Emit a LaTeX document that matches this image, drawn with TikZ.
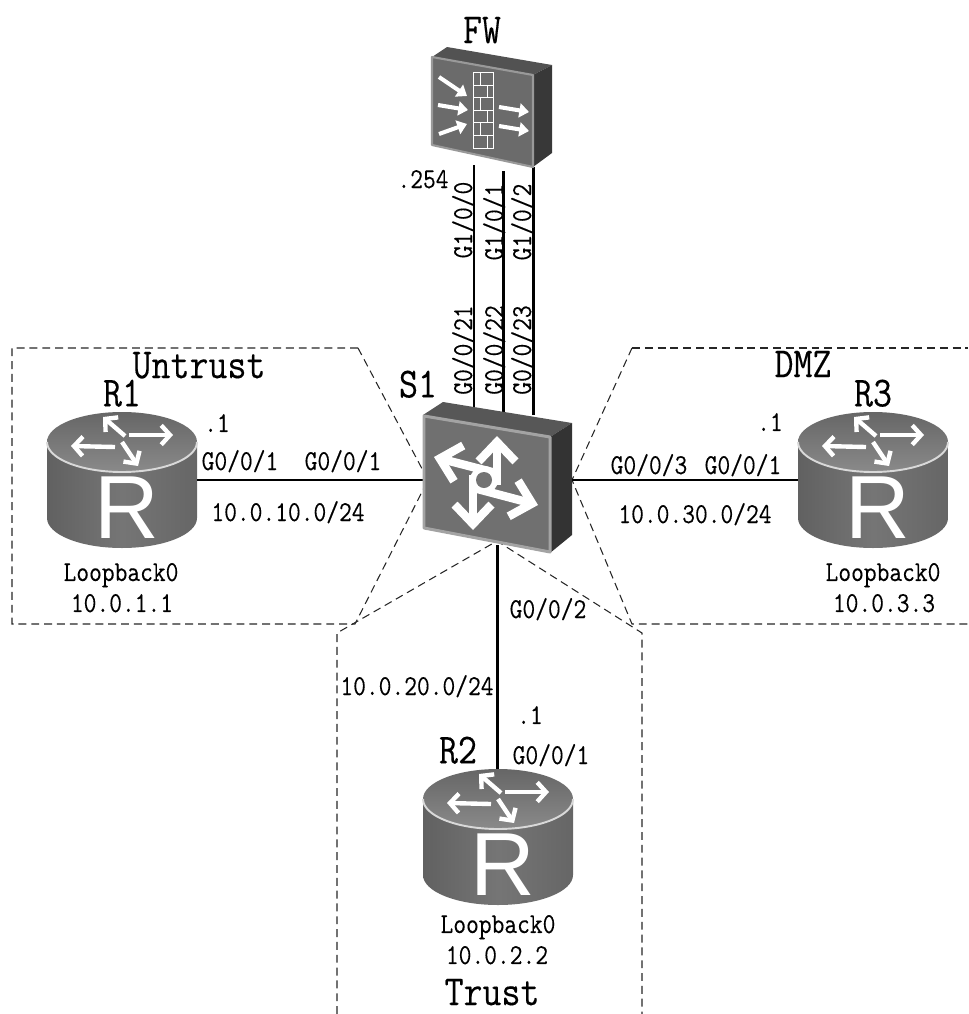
\documentclass[tikz,border=0pt]{standalone}
\usepackage{fontspec}
\setmonofont{Latin Modern Mono}[FakeStretch=0.86, FakeBold=0.25]
\newfontfamily\iconfont{Liberation Sans}
\usetikzlibrary{arrows.meta}

\tikzset{
  routerpic/.pic={
    % body and top of the cylinder
    \path[left color=black!62, right color=black!60, middle color=black!54]
      (-75,-38) -- (-75,38) .. controls (-75,54.6) and (-41.4,68) .. (0,68)
      .. controls (41.4,68) and (75,54.6) .. (75,38) -- (75,-38) -- cycle;
    \path[top color=black!60, bottom color=black!46] (0,-38) circle[x radius=75, y radius=30];
    \draw[black!15, line width=1.1pt] (-75,-38) .. controls (-75,-21.4) and (-41.4,-8) .. (0,-8)
      .. controls (41.4,-8) and (75,-21.4) .. (75,-38);
    % pinwheel of arrows
    \foreach \ax/\ay/\bx/\by in {3/-6/-19/-25, 7/-7/51/-7, 0/0/16/24, -7/5/-51/4} {
      \draw[smallarrow] (\ax,\ay-38) -- (\bx,\by-38);
    }
    \node[routerletter] (-letter) at (5,28) {R};
    \node[minimum width=85.4pt, minimum height=77.4pt, inner sep=0pt] (-box) at (0,0) {};
  }
}

\begin{document}
\begin{tikzpicture}[
  x=0.02cm,y=-0.02cm,
  basetext/.style={inner sep=0pt, text depth=0pt, font=\ttfamily\fontsize{16.4}{16.4}\selectfont},
  linklabel/.style={basetext},
  vertlabel/.style={basetext, rotate=90},
  titlelabel/.style={basetext, font=\ttfamily\fontsize{24.4}{24.4}\selectfont},
  zoneline/.style={black!85, line width=0.6pt, dash pattern=on 4.5pt off 2.8pt},
  linkline/.style={black, line width=1.7pt},
  smallarrow/.style={white, line width=2.5pt, -{Straight Barb[length=5pt, width=11pt]}},
  bigarrow/.style={white, line width=4.8pt, -{Straight Barb[length=11pt, width=21pt]}},
  fwarrow/.style={white, line width=2.3pt, -{Triangle[length=5.5pt, width=8pt]}},
  brick/.style={white, line width=0.45pt},
  routerletter/.style={white, inner sep=0pt, text depth=0pt, font=\iconfont\fontsize{51}{51}\selectfont},
]
\useasboundingbox (0,0) rectangle (968,1014);

% --- dashed security zones ---
\draw[zoneline] (358,348) -- (12,348) -- (12,624) -- (355,624) -- (428,480);
\draw[zoneline] (358,348) -- (428,480);
\draw[zoneline] (632,348) -- (968,348);
\draw[zoneline] (632,348) -- (572,480) -- (632,624) -- (968,624);
\draw[zoneline] (337,1014) -- (337,633) -- (497,541) -- (642,633) -- (642,1014);

% --- port points on the two boxes ---
\coordinate (fwp0) at (474,165);
\coordinate (fwp1) at (503,171);
\coordinate (fwp2) at (533,167);
\coordinate (swp21) at (474,407);
\coordinate (swp22) at (503,412);
\coordinate (swp23) at (533,415);
\coordinate (swwest) at (428,480);
\coordinate (sweast) at (572,480);
\coordinate (swsouth) at (497,545);

% --- routers ---
\pic (R1) at (122,480) {routerpic};
\pic (R3) at (873,480) {routerpic};
\pic (R2) at (498,837) {routerpic};

% --- links ---
\draw[linkline] (fwp0) -- (swp21);
\draw[linkline] (fwp1) -- (swp22);
\draw[linkline] (fwp2) -- (swp23);
\draw[linkline] (R1-box.east) -- (swwest);
\draw[linkline] (sweast) -- (R3-box.west);
\draw[linkline] (swsouth) -- (R2-box.north -| swsouth);

% --- firewall icon ---
\fill[black!68] (432,57) -- (447,47) -- (552,65) -- (533,75) -- cycle;
\fill[black!78] (533,75) -- (552,65) -- (552,153) -- (533,167) -- cycle;
\draw[black!40, fill=black!58, line width=1.2pt, line join=round] (432,57) -- (533,75) -- (533,167) -- (432,145) -- cycle;
\draw[brick] (473,72) rectangle (493,148);
\foreach \y in {85,97,110,122,135} {
  \draw[brick] (473,\y) -- (493,\y);
}
\foreach \x/\y in {480/72, 487/85, 480/97, 487/110, 480/122, 487/135} {
  \draw[brick] (\x,\y) -- ++(0,12.5);
}
\foreach \ax/\ay/\bx/\by in {439/77/467/96, 438/105/468/110, 439/134/467/124, 499/107/529/112, 499/126/529/131} {
  \draw[fwarrow] (\ax,\ay) -- (\bx,\by);
}

% --- switch icon ---
\fill[black!66] (423,415) -- (443,402) -- (572,423) -- (550,437) -- cycle;
\fill[black!80] (550,437) -- (572,423) -- (572,535) -- (550,553) -- cycle;
\draw[black!36, fill=black!56, line width=1.7pt, line join=round] (424,416) -- (550,437) -- (550,552) -- (424,528) -- cycle;
\foreach \ax/\ay/\bx/\by in {497/485/497/436, 492/472/434/457, 470/487/538/505, 473/475/473/530} {
  \draw[bigarrow] (\ax,\ay) -- (\bx,\by);
}
\fill[white] (484,480) circle[radius=14];
\fill[black!55] (484,480) circle[radius=8];

% --- names ---
\node[titlelabel] (fwname) at (482,30) {FW};
\node[titlelabel] (s1name) at (418,384) {S1};
\node[titlelabel] (r1name) at (122,393) {R1};
\node[titlelabel] (r3name) at (873,393) {R3};
\node[titlelabel] (r2name) at (458,750) {R2};
\node[titlelabel] (untrustname) at (199,365) {Untrust};
\node[titlelabel] (dmzname) at (803,364) {DMZ};
\node[titlelabel] (trustname) at (492,992) {Trust};

% --- firewall to switch ports ---
\node[linklabel] (fwaddr) at (423,179) {.254};
\node[vertlabel] (g100) at (462,220) {G1/0/0};
\node[vertlabel] (g101) at (493,222) {G1/0/1};
\node[vertlabel] (g102) at (521,222) {G1/0/2};
\node[vertlabel] (g021) at (462,350) {G0/0/21};
\node[vertlabel] (g022) at (493,350) {G0/0/22};
\node[vertlabel] (g023) at (521,350) {G0/0/23};

% --- R1 side ---
\node[linklabel] (r1addr) at (217,423) {.1};
\node[linklabel] (r1port) at (240,460) {G0/0/1};
\node[linklabel] (s1port1) at (343,460) {G0/0/1};
\node[linklabel] (net10) at (288,511) {10.0.10.0/24};
\node[linklabel] (r1loop) at (121,572) {Loopback0};
\node[linklabel] (r1ip) at (122,603) {10.0.1.1};

% --- R3 side ---
\node[linklabel] (r3addr) at (770,422) {.1};
\node[linklabel] (s1port3) at (649,464) {G0/0/3};
\node[linklabel] (r3port) at (743,464) {G0/0/1};
\node[linklabel] (net30) at (695,513) {10.0.30.0/24};
\node[linklabel] (r3loop) at (883,572) {Loopback0};
\node[linklabel] (r3ip) at (884,603) {10.0.3.3};

% --- R2 side ---
\node[linklabel] (s1port2) at (548,608) {G0/0/2};
\node[linklabel] (net20) at (417,685) {10.0.20.0/24};
\node[linklabel] (r2addr) at (530,715) {.1};
\node[linklabel] (r2port) at (551,754) {G0/0/1};
\node[linklabel] (r2loop) at (498,924) {Loopback0};
\node[linklabel] (r2ip) at (497,955) {10.0.2.2};

\end{tikzpicture}
\end{document}
